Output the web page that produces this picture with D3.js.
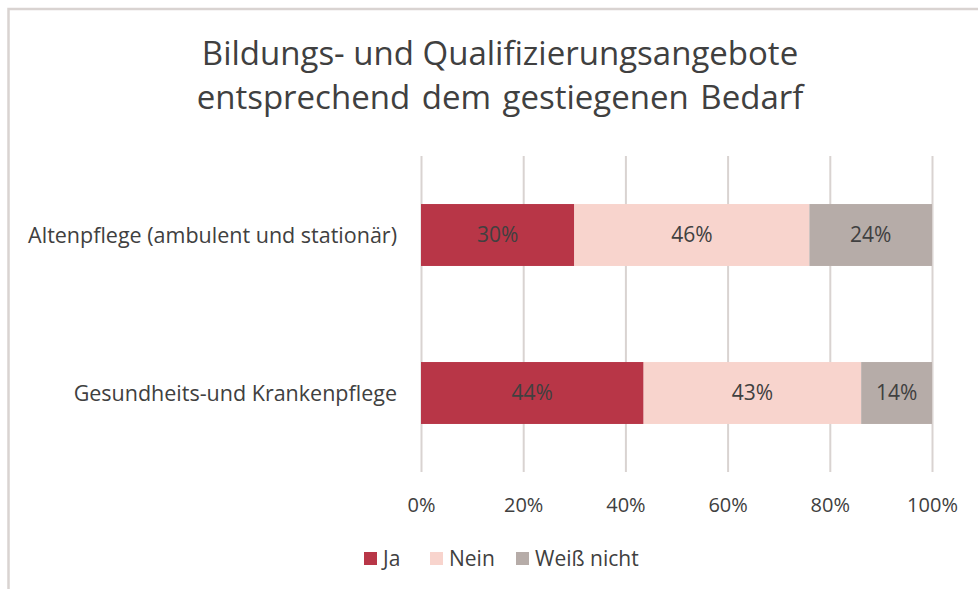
<!DOCTYPE html>
<html>
<head>
<meta charset="utf-8">
<script src="https://cdn.jsdelivr.net/npm/d3@7"></script>
<style>
  body { margin: 0; background: #fff; }
  text { font-family: "Open Sans", sans-serif; fill: #404040; }
</style>
</head>
<body>
<script>
const categories = ["Altenpflege (ambulent und stationär)", "Gesundheits-und Krankenpflege"];
const seriesNames = ["Ja", "Nein", "Weiß nicht"];
const ja = [30, 44];
const nein = [46, 43];
const weissNicht = [24, 14];
const xTicks = [0, 0.2, 0.4, 0.6, 0.8, 1];
const colors = ['#b83647', '#f8d4cd', '#b6aca8'];
const titleLines = ["Bildungs- und Qualifizierungsangebote", "entsprechend dem gestiegenen Bedarf"];

const rows = categories.map((c, i) => ({category: c, "Ja": ja[i], "Nein": nein[i], "Weiß nicht": weissNicht[i]}));

showChart(rows);

function showChart(rows) {
    const W = 978, H = 589;
    const svg = d3.select('body').append('svg')
        .attr('width', W)
        .attr('height', H);

    // outer border (only left and top visible)
    svg.append('path')
        .attr('d', `M8.5,${H} L8.5,9 L${W},9`)
        .attr('fill', 'none')
        .attr('stroke', '#d9d3d1')
        .attr('stroke-width', 2.5);

    // title
    svg.append('text')
        .attr('text-anchor', 'middle')
        .attr('font-size', 33)
        .selectAll('tspan')
        .data(titleLines)
        .enter()
        .append('tspan')
        .attr('x', 500)
        .attr('y', (d, i) => 65 + i * 44)
        .attr('word-spacing', (d, i) => i === 1 ? 3 : 0)
        .text(d => d);

    const xScale = d3.scaleLinear().domain([0, 1]).range([421, 932]);
    const yScale = d3.scaleBand()
        .domain(categories)
        .range([156, 472])
        .paddingInner(0.608)
        .paddingOuter(0.304);

    // gridlines + tick labels
    const xAxis = d3.axisBottom(xScale)
        .tickValues(xTicks)
        .tickFormat(d3.format('.0%'))
        .tickSize(316)
        .tickPadding(26);

    const gx = svg.append('g')
        .attr('transform', 'translate(0,156)')
        .call(xAxis);
    gx.select('.domain').remove();
    gx.selectAll('line').attr('stroke', '#d9d3d1').attr('stroke-width', 2);
    gx.selectAll('text')
        .attr('font-size', 20)
        .attr('font-family', '"Open Sans", sans-serif')
        .attr('fill', '#404040');

    // category labels
    svg.append('g')
        .selectAll('text')
        .data(categories)
        .enter()
        .append('text')
        .attr('x', 397)
        .attr('y', d => yScale(d) + yScale.bandwidth() / 2)
        .attr('dy', '0.35em')
        .attr('text-anchor', 'end')
        .attr('font-size', 21.5)
        .text(d => d);

    // stacked bars (100%)
    const stack = d3.stack().keys(seriesNames).offset(d3.stackOffsetExpand);
    const series = stack(rows);

    const layers = svg.append('g')
        .selectAll('g')
        .data(series)
        .enter()
        .append('g')
        .attr('fill', (d, i) => colors[i]);

    layers.selectAll('rect')
        .data(d => d)
        .enter()
        .append('rect')
        .attr('x', d => xScale(d[0]))
        .attr('y', d => yScale(d.data.category))
        .attr('width', d => xScale(d[1]) - xScale(d[0]))
        .attr('height', yScale.bandwidth());

    layers.selectAll('text')
        .data(d => d.map(v => ({v: v, key: d.key})))
        .enter()
        .append('text')
        .attr('x', d => (xScale(d.v[0]) + xScale(d.v[1])) / 2)
        .attr('y', d => yScale(d.v.data.category) + yScale.bandwidth() / 2)
        .attr('dy', '0.35em')
        .attr('text-anchor', 'middle')
        .attr('font-size', 21)
        .text(d => d.v.data[d.key] + '%');

    // legend
    const legendX = [364, 430, 516];
    const legend = svg.append('g')
        .selectAll('g')
        .data(seriesNames)
        .enter()
        .append('g')
        .attr('transform', (d, i) => `translate(${legendX[i]}, 552)`);

    legend.append('rect')
        .attr('width', 13)
        .attr('height', 13)
        .attr('fill', (d, i) => colors[i]);

    legend.append('text')
        .attr('x', 19)
        .attr('y', 6.5)
        .attr('dy', '0.35em')
        .attr('font-size', 21)
        .text(d => d);
}
</script>
</body>
</html>
